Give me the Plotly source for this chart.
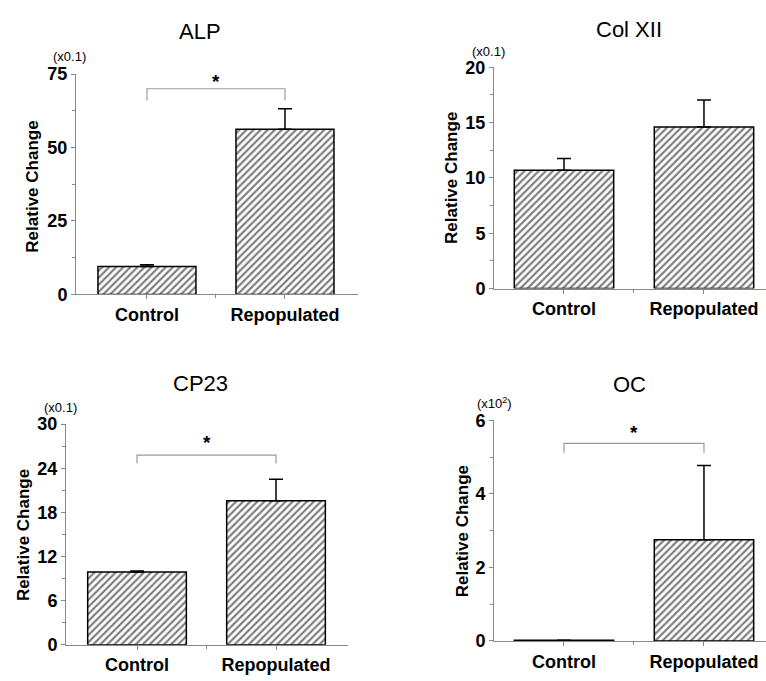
import plotly.graph_objects as go

W, H = 766, 681

categories = ["Control", "Repopulated"]
panel_titles = ["ALP", "Col XII", "CP23", "OC"]
scale_labels = ["(x0.1)", "(x0.1)", "(x0.1)", "(x10<sup>2</sup>)"]

alp_values = [9.5, 56.2]
alp_errors = [0.6, 7.0]
colxii_values = [10.7, 14.6]
colxii_errors = [1.05, 2.45]
cp23_values = [9.9, 19.6]
cp23_errors = [0.15, 2.9]
oc_values = [0.02, 2.75]
oc_errors = [0.0, 2.02]

y_max = [75, 20, 30, 6]
y_dtick = [25, 5, 6, 2]

# significance brackets: (bracket top, bracket drop end, star position) or None
alp_bracket = [70, 66, 72.6]
colxii_bracket = None
cp23_bracket = [25.8, 24.7, 27.5]
oc_bracket = [5.37, 5.12, 5.68]

values = [alp_values, colxii_values, cp23_values, oc_values]
errors = [alp_errors, colxii_errors, cp23_errors, oc_errors]
brackets = [alp_bracket, colxii_bracket, cp23_bracket, oc_bracket]

# layout (pixel geometry)
px_x = [(76, 358), (494, 766), (66, 348), (494, 766)]
px_y = [(66, 293), (59, 287), (426.7, 654), (422.7, 650)]
x_ranges = [[-0.514, 1.529], [-0.5, 1.443], [-0.511, 1.518], [-0.5, 1.443]]
title_pos = [(200, 22), (629, 20), (200, 385), (629, 386)]
scale_pos = [(69, 48), (488, 43), (60, 410), (495, 405)]
ytitle_pos = [(33, 182), (452, 173), (23, 541), (462, 537)]

FONT = "Liberation Sans, Arial, Helvetica, sans-serif"

fig = go.Figure()
annotations = []
layout = {}
for i in range(4):
    sfx = "" if i == 0 else str(i + 1)
    xa, ya = "x" + sfx, "y" + sfx
    fig.add_trace(go.Bar(
        x=[0, 1], y=values[i], xaxis=xa, yaxis=ya, width=0.71,
        marker=dict(color="white", line=dict(color="black", width=1.5),
                    pattern=dict(shape="/", fgcolor="black", bgcolor="white",
                                 size=5, solidity=0.45)),
        error_y=dict(type="data", array=errors[i], arrayminus=[0, 0], symmetric=False,
                     color="black", thickness=1.5, width=7),
        showlegend=False, hoverinfo="skip"))
    b = brackets[i]
    if b is not None:
        fig.add_trace(go.Scatter(
            x=[0, 0, 1, 1], y=[b[1], b[0], b[0], b[1]], xaxis=xa, yaxis=ya,
            mode="lines", line=dict(color="#9a9a9a", width=1.2),
            showlegend=False, hoverinfo="skip"))
        annotations.append(dict(x=0.5, y=b[2], xref=xa, yref=ya, text="*",
                                xanchor="center", yanchor="middle", showarrow=False,
                                font=dict(size=19, color="black", family=FONT, weight="bold")))
    x0, x1 = px_x[i]
    y0, y1 = px_y[i]
    layout["xaxis" + sfx] = dict(
        domain=[x0 / W, x1 / W], range=x_ranges[i], anchor=ya,
        tickvals=[0, 1], ticktext=categories,
        ticks="outside", ticklen=4, tickcolor="#888", showline=True, linecolor="#888",
        linewidth=1, showgrid=False, zeroline=False,
        minor=dict(tickvals=[0.5], ticks="outside", ticklen=3, tickcolor="#888"),
        tickfont=dict(size=18, color="black", family=FONT, weight="bold"), fixedrange=True)
    layout["yaxis" + sfx] = dict(
        domain=[1 - y1 / H, 1 - y0 / H], range=[0, y_max[i]], anchor=xa,
        dtick=y_dtick[i], tick0=0, ticks="outside", ticklen=4, tickcolor="#888",
        showline=True, linecolor="#888", linewidth=1, showgrid=False, zeroline=False,
        minor=dict(dtick=y_dtick[i] / 2, ticks="outside", ticklen=3, tickcolor="#888"),
        tickfont=dict(size=18, color="black", family=FONT, weight="bold"), fixedrange=True)
    tx, ty = title_pos[i]
    annotations.append(dict(x=tx / W, y=1 - ty / H, xref="paper", yref="paper",
                            xanchor="center", yanchor="middle",
                            text=panel_titles[i], showarrow=False,
                            font=dict(size=22, color="black", family=FONT)))
    sx, sy = scale_pos[i]
    annotations.append(dict(x=sx / W, y=1 - sy / H, xref="paper", yref="paper",
                            xanchor="center", yanchor="middle",
                            text=scale_labels[i], showarrow=False,
                            font=dict(size=13, color="black", family=FONT)))
    yx, yy = ytitle_pos[i]
    annotations.append(dict(x=yx / W, y=1 - yy / H, xref="paper", yref="paper",
                            xanchor="center", yanchor="middle",
                            text="Relative Change", textangle=-90, showarrow=False,
                            font=dict(size=17, color="black", family=FONT, weight="bold")))

fig.update_layout(**layout)
fig.update_layout(width=W, height=H, margin=dict(l=0, r=0, t=0, b=0),
                  paper_bgcolor="white", plot_bgcolor="white",
                  annotations=annotations, bargap=0.3)
fig.write_html("out.html", config={"displayModeBar": False},
               post_script="document.body.style.margin='0';document.body.style.overflow='hidden';")
